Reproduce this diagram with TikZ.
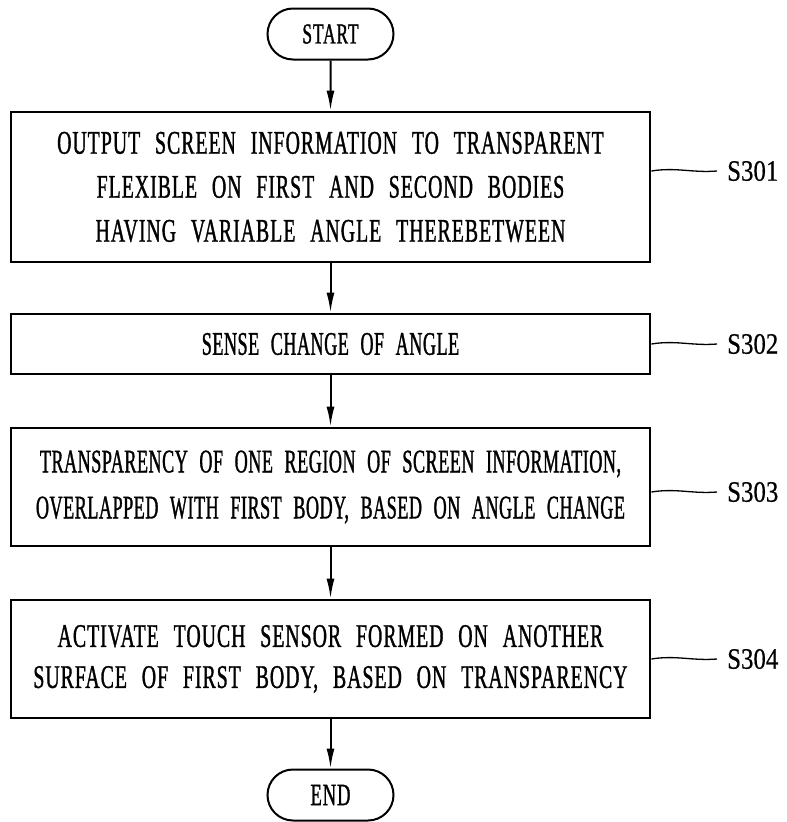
\documentclass[tikz,border=0pt]{standalone}
\usepackage{fontspec}
\usetikzlibrary{arrows.meta,shapes.misc}
\newfontfamily\boxfontA[FakeStretch=0.6,LetterSpace=3,WordSpace=2.5,FakeBold=1]{Liberation Serif}
\newfontfamily\boxfontB[FakeStretch=0.55,LetterSpace=1.5,WordSpace=2.3,FakeBold=1]{Liberation Serif}
\newfontfamily\lblfont[FakeStretch=0.84,FakeBold=0.5]{Liberation Serif}
\tikzset{
  stepbox/.style={draw, line width=2.7pt, rectangle, inner sep=0pt, minimum width=639pt, align=center},
  termbox/.style={draw, line width=2pt, rounded rectangle, inner sep=0pt, minimum width=126pt, minimum height=51pt},
  arr/.style={line width=2pt, -{Latex[length=20pt,width=8pt]}},
  lead/.style={line width=1.3pt},
  steplabel/.style={anchor=west, inner sep=0pt, font=\lblfont\fontsize{29.6}{30}\selectfont}
}
\begin{document}
\begin{tikzpicture}[x=1pt,y=-1pt]
\useasboundingbox (0,0) rectangle (787,822);
\node[termbox, font=\boxfontA\fontsize{29}{30}\selectfont] (start) at (330.5,34) {START};
\node[stepbox, minimum height=150pt, font=\boxfontA\fontsize{33}{44}\selectfont] (s1) at (330.5,187)
  {OUTPUT SCREEN INFORMATION TO TRANSPARENT\\FLEXIBLE ON FIRST AND SECOND BODIES\\HAVING VARIABLE ANGLE THEREBETWEEN};
\node[stepbox, minimum height=60pt, font=\boxfontB\fontsize{33}{44}\selectfont] (s2) at (330.5,344)
  {SENSE CHANGE OF ANGLE};
\node[stepbox, minimum height=118pt, font=\boxfontB\fontsize{33}{46}\selectfont] (s3) at (330.5,487)
  {TRANSPARENCY OF ONE REGION OF SCREEN INFORMATION,\\OVERLAPPED WITH FIRST BODY, BASED ON ANGLE CHANGE};
\node[stepbox, minimum height=118pt, font=\boxfontA\fontsize{33}{41}\selectfont] (s4) at (330.5,659)
  {ACTIVATE TOUCH SENSOR FORMED ON ANOTHER\\SURFACE OF FIRST BODY, BASED ON TRANSPARENCY};
\node[termbox, font=\boxfontA\fontsize{31}{32}\selectfont] (end) at (330.5,795) {END};

\draw[arr] (start) -- (s1);
\draw[arr] (s1) -- (s2);
\draw[arr] (s2) -- (s3);
\draw[arr] (s3) -- (s4);
\draw[arr] (s4) -- (end);

\node[steplabel] (l1) at (727,171) {S301};
\node[steplabel] (l2) at (727,344) {S302};
\node[steplabel] (l3) at (727,492) {S303};
\node[steplabel] (l4) at (727,659) {S304};

\coordinate (c1) at (s1.east |- l1);
\coordinate (c2) at (s2.east |- l2);
\coordinate (c3) at (s3.east |- l3);
\coordinate (c4) at (s4.east |- l4);
\draw[lead] (c1) .. controls ++(25,-4) and ++(-25,2) .. ([xshift=-10pt]l1.west);
\draw[lead] (c2) .. controls ++(25,-4) and ++(-25,2) .. ([xshift=-10pt]l2.west);
\draw[lead] (c3) .. controls ++(25,-4) and ++(-25,2) .. ([xshift=-10pt]l3.west);
\draw[lead] (c4) .. controls ++(25,-4) and ++(-25,2) .. ([xshift=-10pt]l4.west);
\end{tikzpicture}
\end{document}
